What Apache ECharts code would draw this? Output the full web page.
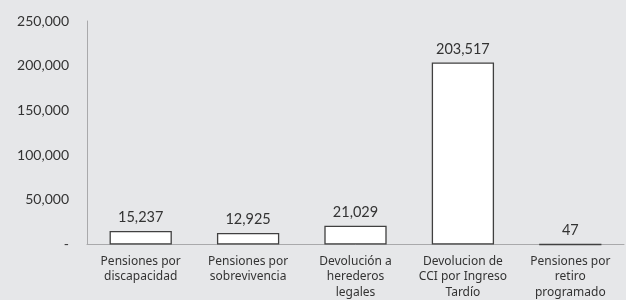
<!DOCTYPE html>
<html>
<head>
<meta charset="utf-8">
<script src="https://cdn.jsdelivr.net/npm/echarts@6/dist/echarts.min.js"></script>
<style>
  html, body { margin: 0; padding: 0; background: #e6e7e9; }
  #chart { width: 626px; height: 300px; }
</style>
</head>
<body>
<div id="chart"></div>
<script>
// categorías del eje x
const categories = [
  'Pensiones por\ndiscapacidad',
  'Pensiones por\nsobrevivencia',
  'Devolución a\nherederos\nlegales',
  'Devolucion de\nCCI por Ingreso\nTardío',
  'Pensiones por\nretiro\nprogramado'
]
const values = [15237, 12925, 21029, 203517, 47]
const yTicks = [0, 50000, 100000, 150000, 200000, 250000]

const fmt = v => v === 0 ? '-' : v.toLocaleString('en-US')

const chart = echarts.init(document.getElementById('chart'))
chart.setOption({
  backgroundColor: '#e6e7e9',
  textStyle: { fontFamily: 'Lato' },
  grid: { left: 87, right: 2, top: 21, bottom: 54 },
  xAxis: {
    type: 'category',
    data: categories,
    axisTick: { show: false },
    axisLine: { lineStyle: { color: '#a9a9ab', width: 1 } },
    axisLabel: {
      color: '#333',
      fontFamily: 'Noto Sans',
      fontSize: 12,
      lineHeight: 15.5,
      margin: 9,
      interval: 0
    }
  },
  yAxis: {
    type: 'value',
    min: yTicks[0],
    max: yTicks[yTicks.length - 1],
    interval: 50000,
    splitLine: { show: false },
    axisTick: { show: false },
    axisLine: { show: true, lineStyle: { color: '#a9a9ab', width: 1 } },
    axisLabel: {
      color: '#333',
      fontSize: 14,
      margin: 18,
      formatter: fmt
    }
  },
  series: [{
    type: 'bar',
    data: values,
    barWidth: '58%',
    itemStyle: {
      color: '#ffffff',
      borderColor: '#404040',
      borderWidth: 1.3
    },
    label: {
      show: true,
      position: 'top',
      distance: 6,
      color: '#333',
      fontSize: 14.5,
      formatter: p => fmt(p.value)
    }
  }]
})
</script>
</body>
</html>
